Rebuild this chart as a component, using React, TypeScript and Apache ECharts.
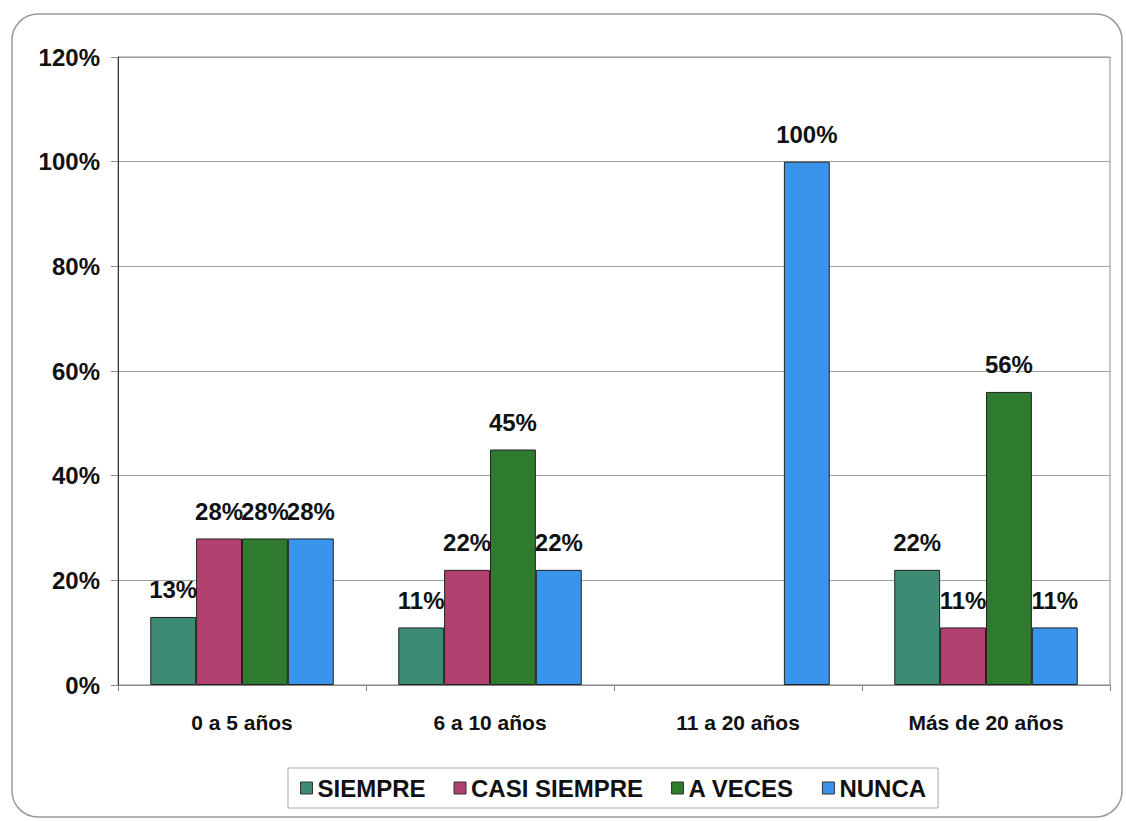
import React, { useEffect, useRef } from "react";
import * as echarts from "echarts";

const categories = ["0 a 5 años", "6 a 10 años", "11 a 20 años", "Más de 20 años"];
const seriesNames = ["SIEMPRE", "CASI SIEMPRE", "A VECES", "NUNCA"];
const siempre = [13, 11, null, 22];
const casiSiempre = [28, 22, null, 11];
const aVeces = [28, 45, null, 56];
const nunca = [28, 22, 100, 11];
const seriesColors = ["#3d8b74", "#b3416f", "#2e7a2e", "#3a94ec"];
const yTicks = { min: 0, max: 120, interval: 20 };

const FONT = "'Liberation Sans', Arial, sans-serif";

export default function App() {
  const ref = useRef<HTMLDivElement>(null);
  useEffect(() => {
    if (!ref.current) return;
    const chart = echarts.init(ref.current, null, { renderer: "svg" });
    const values = [siempre, casiSiempre, aVeces, nunca];
    chart.setOption({
      animation: false,
      backgroundColor: "#ffffff",
      textStyle: { fontFamily: FONT },
      graphic: [
        {
          type: "rect",
          shape: { x: 12, y: 14, width: 1110, height: 803, r: 26 },
          style: { fill: "none", stroke: "#9a9a9a", lineWidth: 1.5 },
          silent: true,
        },
      ],
      grid: {
        left: 118,
        right: 16,
        top: 57,
        bottom: 136,
        show: true,
        borderColor: "#8a8a9a",
        borderWidth: 1,
      },
      legend: {
        data: seriesNames,
        left: 288,
        top: 768,
        padding: [8, 12, 8, 12],
        itemWidth: 12,
        itemHeight: 12,
        itemGap: 28,
        borderColor: "#aaaaaa",
        borderWidth: 1,
        icon: "rect",
        itemStyle: { borderColor: "#333", borderWidth: 1 },
        textStyle: { fontFamily: FONT, fontSize: 24, fontWeight: "bold", color: "#111" },
      },
      xAxis: {
        type: "category",
        data: categories,
        axisLine: { show: true, lineStyle: { color: "#888" } },
        axisTick: { show: true, length: 6, lineStyle: { color: "#888" } },
        axisLabel: {
          margin: 27,
          fontFamily: FONT,
          fontSize: 21,
          fontWeight: "bold",
          color: "#111",
        },
      },
      yAxis: {
        type: "value",
        min: yTicks.min,
        max: yTicks.max,
        interval: yTicks.interval,
        axisLine: { show: true, lineStyle: { color: "#333" } },
        axisTick: { show: true, length: 7, lineStyle: { color: "#888" } },
        splitLine: { show: true, lineStyle: { color: "#a0a0a0" } },
        axisLabel: {
          margin: 18,
          formatter: "{value}%",
          fontFamily: FONT,
          fontSize: 24,
          fontWeight: "bold",
          color: "#111",
        },
      },
      series: seriesNames.map((name, i) => ({
        name,
        type: "bar",
        data: values[i],
        barGap: "0%",
        barCategoryGap: "26%",
        itemStyle: { color: seriesColors[i], borderColor: "#222", borderWidth: 1 },
        label: {
          show: true,
          position: "top",
          distance: 15,
          formatter: "{c}%",
          fontFamily: FONT,
          fontSize: 24,
          fontWeight: "bold",
          color: "#111",
        },
      })),
    });
    return () => chart.dispose();
  }, []);
  return (
    <div
      ref={ref}
      style={{ position: "fixed", left: 0, top: 0, width: 1126, height: 821 }}
    />
  );
}
